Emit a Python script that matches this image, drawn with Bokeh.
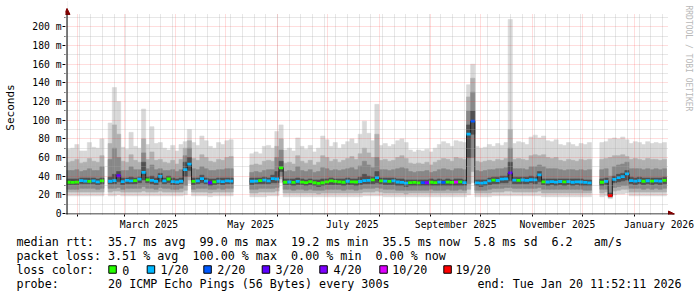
import math
import pandas as pd
from bokeh.plotting import figure
from bokeh.models import (Range1d, FixedTicker, Arrow, NormalHead, Label, BoxAnnotation,
                          DatetimeTickFormatter, PrintfTickFormatter)
from bokeh.layouts import column
from bokeh.embed import file_html
from bokeh.resources import INLINE
from bokeh.core.properties import value

nan = float("nan")

# ---------------- data ----------------
start_time = "2025-01-25 11:52:11"
end_time = "2026-01-20 11:52:11"
step_hours = 60  # one consolidated value per 2.5 days

median_ms = [
    33.5, 33.4, 33.6, 35.2, 34.8, 34.5, 34.9, 34.0, 35.0, nan, 34.6, 35.3,
    40.5, 34.2, 35.6, 34.9, 35.2, 36.8, 44.0, 36.0, 35.5, 34.5, 39.8, 35.0,
    37.0, 34.2, 33.8, 34.6, 47.0, 53.0, 34.5, 35.0, 37.5, 34.8, 33.0, 34.0,
    34.6, 34.2, 35.0, 34.7, nan, nan, nan, nan, 34.6, 34.8, 35.3, 35.8,
    34.9, 37.5, 37.0, 49.0, 33.5, 33.8, 33.4, 34.5, 33.6, 33.2, 34.1, 33.0,
    32.4, 33.0, 33.9, 35.0, 34.4, 34.0, 33.5, 34.6, 34.0, 33.8, 34.3, 35.2,
    35.6, 36.0, 38.5, 35.0, 34.8, 34.5, 34.9, 33.8, 33.4, 32.6, 33.1, 33.3,
    32.9, 33.2, 33.0, 33.5, 33.2, 33.6, 33.3, 33.7, 33.4, 33.6, 33.9, 33.1,
    85.0, 99.0, 32.8, 32.6, 33.0, 34.9, 35.8, 35.4, 36.8, 37.2, 43.5, 35.8,
    35.5, 35.9, 35.6, 36.2, 36.0, 41.5, 34.0, 33.8, 34.1, 33.6, 34.3, 33.9,
    34.2, 33.5, 34.0, 33.8, 33.4, 32.9, nan, nan, 33.5, 34.5, 19.2, 36.5,
    38.5, 39.5, 42.5, 35.2, 34.8, 35.3, 34.6, 35.1, 34.8, 35.0, 34.7, 35.5,
]

loss_pings = [
    0, 0, 0, 1, 1, 0, 1, 1, 0, 0, 1, 1,
    3, 1, 1, 1, 0, 1, 1, 0, 1, 1, 1, 1,
    0, 1, 1, 1, 1, 1, 0, 1, 1, 1, 3, 0,
    1, 1, 1, 1, 0, 0, 0, 0, 1, 1, 0, 1,
    1, 1, 1, 0, 0, 1, 0, 1, 0, 0, 0, 0,
    0, 0, 0, 0, 0, 0, 0, 1, 0, 0, 1, 1,
    1, 0, 1, 0, 1, 0, 1, 1, 1, 1, 0, 0,
    0, 2, 4, 0, 0, 1, 2, 0, 0, 10, 0, 1,
    1, 2, 1, 1, 1, 1, 0, 1, 1, 1, 3, 1,
    0, 1, 1, 1, 1, 1, 0, 1, 1, 1, 1, 0,
    1, 1, 1, 1, 1, 1, 0, 0, 0, 1, 19, 1,
    1, 1, 1, 1, 1, 1, 0, 1, 0, 1, 1, 0,
]

# sorted ping rtts (ms) of the 20 pings: 1st, 3rd, 5th, 8th, 13th, 16th, 18th, 20th
ping_p1 = [
    19, 19, 19, 19, 19, 19, 19, 19, 19, nan, 19, 19,
    20, 19, 19, 19, 19, 19, 19, 19, 19, 19, 19, 19,
    19, 19, 19, 19, 20, 32, 19, 19, 19, 19, 18, 19,
    19, 19, 19, 19, nan, nan, nan, nan, 18, 18, 18, 18,
    19, 19, 19, 33, 18, 18, 18, 18, 18, 18, 18, 18,
    18, 18, 18, 18, 18, 18, 18, 18, 18, 18, 18, 19,
    19, 19, 19, 19, 18, 18, 18, 18, 18, 18, 18, 18,
    18, 18, 18, 18, 18, 18, 18, 18, 18, 18, 18, 18,
    20, 33, 18, 18, 18, 18, 19, 19, 19, 19, 19, 19,
    19, 19, 19, 19, 19, 19, 18, 18, 18, 18, 18, 18,
    18, 18, 18, 18, 18, 18, nan, nan, 18, 19, 16, 20,
    21, 21, 22, 19, 19, 19, 19, 19, 19, 19, 19, 19,
]
ping_p3 = [
    23, 23, 23, 23, 23, 23, 23, 23, 23, nan, 23, 24,
    24, 23, 23, 23, 23, 23, 24, 23, 23, 23, 24, 23,
    23, 23, 23, 23, 25, 36, 23, 23, 23, 23, 22, 23,
    23, 23, 23, 23, nan, nan, nan, nan, 22, 22, 23, 23,
    23, 23, 24, 37, 22, 22, 22, 22, 22, 22, 22, 22,
    21, 22, 22, 22, 22, 22, 22, 22, 22, 22, 22, 23,
    23, 23, 24, 23, 22, 22, 22, 22, 22, 21, 22, 22,
    22, 22, 22, 22, 22, 22, 22, 22, 22, 22, 22, 22,
    26, 45, 22, 22, 22, 22, 23, 23, 23, 24, 24, 23,
    23, 23, 23, 23, 23, 24, 22, 22, 22, 22, 22, 22,
    22, 22, 22, 22, 22, 22, nan, nan, 22, 23, 17, 24,
    25, 26, 26, 23, 23, 23, 23, 23, 23, 23, 23, 23,
]
ping_p5 = [
    26, 26, 26, 27, 27, 27, 27, 26, 27, nan, 27, 27,
    28, 26, 27, 27, 27, 27, 29, 27, 27, 26, 28, 27,
    27, 26, 26, 27, 30, 40, 26, 27, 27, 27, 26, 26,
    27, 26, 27, 27, nan, nan, nan, nan, 26, 26, 27, 27,
    27, 27, 28, 40, 26, 26, 25, 26, 26, 25, 26, 25,
    25, 25, 26, 26, 26, 26, 25, 26, 26, 25, 26, 27,
    27, 27, 28, 27, 26, 26, 26, 25, 25, 25, 25, 25,
    25, 25, 25, 26, 25, 25, 25, 26, 25, 25, 26, 25,
    32, 60, 25, 25, 25, 26, 27, 27, 27, 28, 28, 27,
    27, 27, 27, 27, 27, 28, 26, 26, 26, 26, 26, 26,
    26, 26, 26, 26, 25, 25, nan, nan, 26, 26, 18, 28,
    29, 30, 30, 27, 27, 27, 26, 27, 26, 27, 26, 27,
]
ping_p8 = [
    31, 31, 31, 32, 32, 32, 32, 31, 32, nan, 32, 32,
    34, 31, 32, 32, 32, 33, 36, 33, 32, 31, 34, 32,
    33, 31, 31, 32, 40, 46, 31, 32, 33, 32, 30, 31,
    32, 31, 32, 32, nan, nan, nan, nan, 31, 32, 32, 32,
    32, 33, 33, 45, 31, 31, 30, 31, 31, 30, 31, 30,
    29, 30, 31, 31, 31, 31, 30, 31, 31, 30, 31, 32,
    32, 32, 33, 32, 31, 31, 31, 30, 30, 29, 30, 30,
    30, 30, 30, 30, 30, 30, 30, 30, 30, 30, 30, 30,
    60, 85, 30, 29, 30, 31, 32, 32, 33, 33, 35, 32,
    32, 32, 32, 33, 32, 34, 31, 30, 31, 30, 31, 30,
    31, 30, 31, 30, 30, 30, nan, nan, 30, 31, 18.5, 33,
    34, 35, 36, 32, 31, 32, 31, 32, 31, 32, 31, 32,
]
ping_p13 = [
    37, 37, 37, 38, 38, 38, 38, 37, 38, nan, 39, 42,
    45, 38, 38, 39, 38, 39, 55, 39, 40, 38, 43, 38,
    40, 38, 37, 38, 55, 60, 38, 38, 41, 38, 37, 37,
    38, 38, 38, 38, nan, nan, nan, nan, 38, 38, 38, 39,
    38, 41, 45, 56, 37, 37, 37, 38, 37, 36, 37, 36,
    36, 37, 37, 38, 37, 37, 37, 38, 37, 37, 39, 42,
    40, 39, 45, 38, 38, 38, 38, 37, 37, 36, 36, 36,
    36, 36, 36, 37, 36, 37, 36, 37, 36, 37, 37, 36,
    95, 110, 36, 36, 36, 38, 39, 39, 40, 40, 55, 39,
    39, 39, 39, 40, 39, 45, 37, 37, 37, 37, 37, 37,
    37, 37, 37, 37, 36, 36, nan, nan, 37, 38, 22, 40,
    42, 43, 46, 39, 38, 39, 38, 38, 38, 38, 38, 39,
]
ping_p16 = [
    46, 46, 47, 45, 46, 48, 46, 46, 50, nan, 58, 70,
    60, 46, 46, 50, 47, 47, 65, 48, 52, 47, 48, 46,
    46, 47, 45, 47, 62, 70, 48, 47, 50, 48, 46, 46,
    47, 47, 48, 48, nan, nan, nan, nan, 44, 45, 44, 46,
    47, 47, 60, 68, 45, 46, 45, 50, 46, 45, 47, 44,
    45, 49, 48, 46, 47, 46, 47, 48, 49, 47, 51, 56,
    52, 49, 60, 47, 47, 46, 47, 48, 49, 48, 45, 44,
    45, 45, 46, 44, 45, 47, 48, 47, 46, 48, 48, 47,
    110, 130, 46, 45, 46, 47, 47, 48, 48, 49, 70, 48,
    48, 48, 47, 50, 50, 52, 50, 48, 48, 48, 47, 46,
    47, 47, 46, 47, 46, 47, nan, nan, 47, 48, 40, 50,
    52, 53, 55, 48, 48, 48, 47, 48, 47, 48, 47, 48,
]
ping_p18 = [
    55, 56, 58, 54, 55, 59, 56, 55, 62, nan, 75, 95,
    85, 56, 55, 63, 57, 55, 80, 58, 66, 57, 58, 55,
    54, 57, 53, 58, 70, 78, 59, 57, 63, 60, 56, 55,
    58, 57, 60, 61, nan, nan, nan, nan, 52, 53, 52, 56,
    57, 56, 72, 80, 54, 55, 53, 62, 56, 54, 57, 52,
    55, 62, 60, 56, 58, 55, 57, 59, 61, 58, 64, 70,
    65, 60, 85, 57, 58, 56, 57, 60, 62, 59, 54, 53,
    54, 53, 55, 52, 55, 57, 59, 58, 56, 60, 59, 58,
    125, 145, 56, 55, 56, 57, 56, 58, 57, 59, 90, 58,
    59, 58, 57, 62, 63, 62, 63, 60, 59, 60, 57, 56,
    58, 57, 56, 58, 57, 58, nan, nan, 58, 59, 60, 62,
    62, 63, 61, 58, 59, 58, 57, 59, 58, 58, 57, 58,
]
ping_p20 = [
    69, 70, 74, 67, 67, 76, 71, 70, 80, nan, 97, 135,
    120, 71, 69, 87, 72, 70, 112, 74, 93, 75, 76, 70,
    68, 73, 67, 74, 77, 90, 76, 73, 83, 78, 72, 70,
    76, 74, 78, 79, nan, nan, nan, nan, 64, 66, 64, 72,
    73, 70, 88, 95, 68, 70, 67, 81, 72, 69, 73, 66,
    70, 83, 79, 72, 76, 70, 74, 77, 80, 75, 85, 99,
    86, 78, 117, 73, 75, 72, 74, 78, 80, 76, 68, 66,
    68, 67, 69, 66, 70, 74, 77, 75, 72, 78, 77, 76,
    138, 160, 72, 70, 71, 74, 72, 75, 73, 76, 208, 75,
    77, 76, 74, 82, 84, 81, 83, 78, 77, 79, 74, 73,
    76, 74, 72, 75, 74, 76, nan, nan, 76, 77, 80, 81,
    80, 82, 79, 75, 77, 76, 74, 77, 75, 76, 75, 76,
]

loss_levels = [0, 1, 2, 3, 4, 10, 19]
loss_labels = ["0", "1/20", "2/20", "3/20", "4/20", "10/20", "19/20"]
loss_colors = ["#26ff00", "#00b8ff", "#0059ff", "#5e00ff", "#7e00ff", "#dd00ff", "#ff0000"]

y_ticks = [0, 20, 40, 60, 80, 100, 120, 140, 160, 180, 200]
x_label_dates = ["2025-03-16", "2025-05-16", "2025-07-16", "2025-09-16", "2025-11-16", "2026-01-16"]

legend_rows = [
    ("median rtt:", [(13, "35.7 ms avg"), (26, "99.0 ms max"), (39, "19.2 ms min"),
                     (52, "35.5 ms now"), (65, "5.8 ms sd"), (76, "6.2"), (82, "am/s")]),
    ("packet loss:", [(13, "3.51 % avg"), (25, "100.00 % max"), (39, "0.00 % min"),
                      (51, "0.00 % now")]),
    ("loss color:", []),
    ("probe:", [(13, "20 ICMP Echo Pings (56 Bytes) every 300s")]),
]
end_text = "end: Tue Jan 20 11:52:11 2026"
watermark = "RRDTOOL / TOBI OETIKER"

for arr in (median_ms, loss_pings, ping_p1, ping_p3, ping_p5, ping_p8,
            ping_p13, ping_p16, ping_p18, ping_p20):
    assert len(arr) == len(median_ms), len(arr)

# ---------------- helpers ----------------
def ms(ts):
    return pd.Timestamp(ts).value / 1e6

t0 = ms(start_time)
t1 = ms(end_time)
n = len(median_ms)
step = step_hours * 3600000.0
lefts = [t0 + i * step for i in range(n)]
rights = [l + step for l in lefts]

def isnum(v):
    return v == v

def loss_color(l):
    for lvl, c in zip(loss_levels, loss_colors):
        if l <= lvl:
            return c
    return loss_colors[-1]

MONO = "DejaVu Sans Mono"
W = 697
H_MAIN, H_LEG = 232, 65
X0, X1 = 66, 666          # page x of start / end of the time axis
Y0, Y200 = 215, 26.7      # page y of 0 ms and 200 ms
PX = (t1 - t0) / (X1 - X0)        # ms of time per pixel
PY = 200.0 / (Y0 - Y200)          # rtt-ms per pixel
FL, FT, FB = 65, 0, 216           # frame: left edge, top, bottom (page px)

def px_x(px):   # page pixel -> data x (layout helper for decorations)
    return t0 + (px - X0) * PX

def px_y(py):
    return (Y0 - py) * PY

# ---------------- chart ----------------
p = figure(width=W, height=H_MAIN,
           x_range=Range1d(px_x(FL), px_x(W)), y_range=Range1d(px_y(FB), px_y(FT)),
           x_axis_type="datetime", output_backend="svg", toolbar_location=None,
           min_border_left=FL, min_border_right=0, min_border_top=FT,
           min_border_bottom=H_MAIN - FB,
           background_fill_color="white", border_fill_color="white", outline_line_color=None)

bands = [(ping_p1, ping_p20, "#d8d8d8"), (ping_p3, ping_p18, "#b0b0b0"),
         (ping_p5, ping_p16, "#888888"), (ping_p8, ping_p13, "#505050")]
for lo, hi, col in bands:
    idx = [i for i in range(n) if isnum(lo[i]) and isnum(hi[i])]
    p.quad(left=[lefts[i] for i in idx], right=[rights[i] for i in idx],
           bottom=[lo[i] for i in idx], top=[hi[i] for i in idx],
           fill_color=col, line_color=col, line_width=0.6)

# median step line (dark) and loss-coloured median marks
p.step(x=lefts + [t1], y=median_ms + [median_ms[-1]], mode="after",
       line_color="#202020", line_width=1)
idx = [i for i in range(n) if isnum(median_ms[i])]
half = 1.5
p.quad(left=[lefts[i] for i in idx], right=[rights[i] for i in idx],
       bottom=[median_ms[i] - half for i in idx], top=[median_ms[i] + half for i in idx],
       fill_color=[loss_color(loss_pings[i]) for i in idx], line_color=None)

# axes (labels and ticks by bokeh; axis lines drawn as arrows below)
month_starts = [ms(d) for d in pd.date_range("2025-02-01", "2026-01-01", freq="MS")]
week_starts = [ms(d) for d in pd.date_range("2025-01-26", "2026-01-18", freq="W-SUN")]
xa = p.xaxis[0]
xa.ticker = FixedTicker(ticks=[ms(d) for d in x_label_dates], minor_ticks=month_starts)
xa.formatter = DatetimeTickFormatter(microseconds="%B %Y", milliseconds="%B %Y", seconds="%B %Y",
                                     minsec="%B %Y", minutes="%B %Y", hourmin="%B %Y",
                                     hours="%B %Y", days="%B %Y", months="%B %Y", years="%B %Y")
xa.major_tick_out = 0
xa.major_tick_in = 0
xa.minor_tick_out = 2
xa.minor_tick_in = 0
xa.minor_tick_line_color = "black"
xa.major_label_standoff = 2
xa.major_label_text_font = MONO
xa.major_label_text_font_size = "9.7px"
xa.major_label_text_color = "black"
xa.axis_line_color = None

ya = p.yaxis[0]
ya.ticker = FixedTicker(ticks=y_ticks, minor_ticks=[v + 10 for v in y_ticks])
ya.formatter = PrintfTickFormatter(format="%d m")
ya.major_label_overrides = {0: "0"}
ya.major_tick_out = 3
ya.major_tick_in = 0
ya.minor_tick_out = 1
ya.minor_tick_in = 0
ya.major_label_standoff = 1
ya.major_label_text_font = MONO
ya.major_label_text_font_size = "9.7px"
ya.major_label_text_color = "black"
ya.axis_line_color = None
ya.axis_label = "Seconds"
ya.axis_label_text_font = MONO
ya.axis_label_text_font_size = "11px"
ya.axis_label_text_font_style = "normal"
ya.axis_label_text_color = "black"
ya.axis_label_standoff = 12

# grid, drawn over the smoke as rrdtool does
p.xgrid.ticker = FixedTicker(ticks=month_starts, minor_ticks=week_starts)
p.ygrid.ticker = FixedTicker(ticks=y_ticks[1:], minor_ticks=[v + 10 for v in y_ticks])
for g in (p.xgrid[0], p.ygrid[0]):
    g.level = "annotation"
    g.grid_line_color = "#ff3030"
    g.grid_line_alpha = 0.32
    g.grid_line_dash = "1 1"
    g.minor_grid_line_color = "#a8a8a8"
    g.minor_grid_line_alpha = 0.55
    g.minor_grid_line_dash = "1 1"

# blank margins of the canvas (grid stops at the graph area)
for l, r, b, t in [(FL, X0, FB, FT), (X0 + 1, W, 13.5, FT), (X1 + 1.5, W, Y0 - 0.6, 13.5)]:
    p.add_layout(BoxAnnotation(left=px_x(l), right=px_x(r), bottom=px_y(b), top=px_y(t),
                               fill_color="white", fill_alpha=1.0, line_alpha=0.0,
                               level="overlay"))

# axis lines with arrow heads
head = dict(size=6, fill_color="#800000", line_color="#800000")
p.add_layout(Arrow(end=NormalHead(**head), x_start=px_x(FL), y_start=px_y(Y0 + 0.5),
                   x_end=px_x(674), y_end=px_y(Y0 + 0.5), line_color="black",
                   line_width=1, level="overlay"))
p.add_layout(Arrow(end=NormalHead(**head), x_start=px_x(X0 + 0.5), y_start=px_y(FB),
                   x_end=px_x(X0 + 0.5), y_end=px_y(8), line_color="black",
                   line_width=1, level="overlay"))

# watermark
p.add_layout(Label(x=px_x(687.5), y=px_y(5), text=watermark, angle=-math.pi / 2,
                   text_align="left", text_baseline="middle", text_font=MONO,
                   text_font_size="8px", text_color="#b8b8b8", level="overlay"))

# ---------------- legend block ----------------
lg = figure(width=W, height=H_LEG, x_range=Range1d(0, W), y_range=Range1d(H_LEG, 0),
            output_backend="svg", toolbar_location=None, min_border=0,
            x_axis_location=None, y_axis_location=None,
            background_fill_color="white", border_fill_color="white", outline_line_color=None)
lg.grid.visible = False

for fig in (p, lg):
    if "frame_align" in fig.properties():
        fig.frame_align = False

CW = 7.04
row_y = [241 - H_MAIN, 255.5 - H_MAIN, 269.5 - H_MAIN, 283.5 - H_MAIN]
tx, ty, tt = [], [], []
for (head_txt, items), yy in zip(legend_rows, row_y):
    tx.append(16); ty.append(yy); tt.append(head_txt)
    for ci, txt in items:
        tx.append(16 + ci * CW); ty.append(yy); tt.append(txt)
tx.append(477); ty.append(row_y[3]); tt.append(end_text)

box_x = [108.3, 146.7, 203.3, 261.7, 319.3, 379.3, 443.3]
lab_x = [121.7, 160.0, 216.7, 275.0, 333.0, 391.7, 455.0]
for lx, lab in zip(lab_x, loss_labels):
    tx.append(lx); ty.append(row_y[2]); tt.append(lab)

lg.text(x=tx, y=ty, text=tt, text_font=value(MONO), text_font_size="11.7px",
        text_baseline="middle", text_align="left", text_color="black")
lg.rect(x=[b + 3.75 for b in box_x], y=[row_y[2] - 0.5] * len(box_x), width=7.5, height=7.5,
        fill_color=loss_colors, line_color="black", line_width=1)

layout = column(p, lg, spacing=0)
open("out.html", "w").write(file_html(layout, INLINE))
